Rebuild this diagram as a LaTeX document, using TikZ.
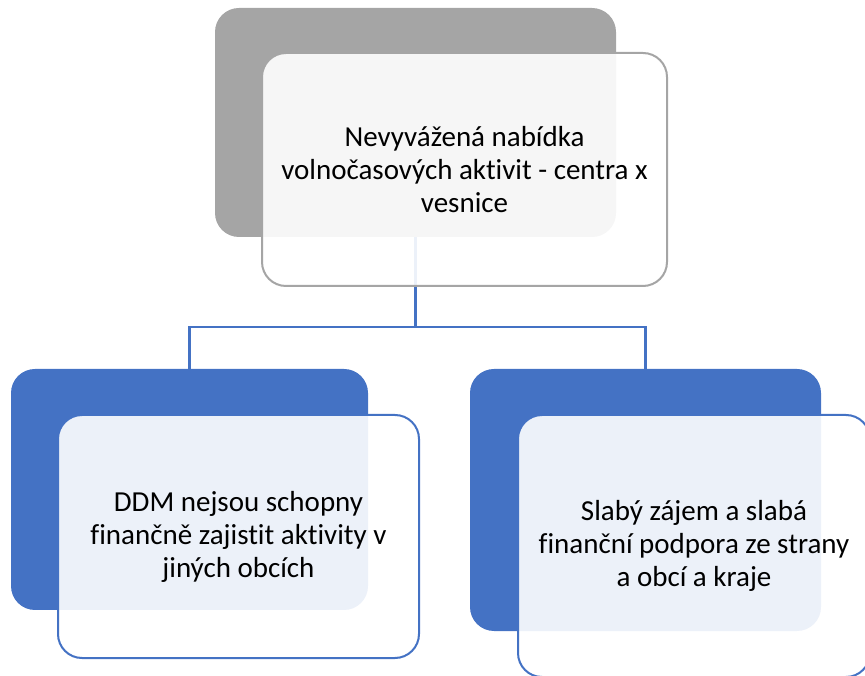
\documentclass[tikz,border=0pt]{standalone}
\usepackage{fontspec}
\setmainfont{Carlito}[Ligatures=NoCommon]
\definecolor{accblue}{HTML}{4472C4}
\definecolor{accgray}{HTML}{A5A5A5}
\tikzset{
  x=1pt,y=1pt,
  backbox/.style={rectangle, rounded corners=24pt, inner sep=0pt, draw=none},
  frontbox/.style={rectangle, rounded corners=24pt, inner sep=0pt, line width=2pt,
    fill=white, fill opacity=0.9, text opacity=1, align=center,
    font=\fontsize{29}{33}\selectfont},
  conn/.style={draw=accblue, line width=2.2pt}
}
\begin{document}
\begin{tikzpicture}
\useasboundingbox (0,0) rectangle (865,675);
% back boxes
\node[backbox, fill=accgray, minimum width=401pt, minimum height=229pt] (topback) at (415.5,552.5) {};
\node[backbox, fill=accblue, minimum width=357pt, minimum height=241pt] (leftback) at (189.5,185.5) {};
\node[backbox, fill=accblue, minimum width=351pt, minimum height=262pt] (rightback) at (645.5,175) {};
% connectors
\coordinate (junc) at (415.5,348);
\draw[conn] (topback.south) -- (junc);
\draw[conn] (junc) -| (leftback.north);
\draw[conn] (junc) -| (rightback.north);
% front boxes
\node[frontbox, draw=accgray, minimum width=405pt, minimum height=233pt] (topfront) at (464.5,505.5)
  {Nevyvážená nabídka\\volnočasových aktivit - centra x\\vesnice};
\node[frontbox, draw=accblue, minimum width=361pt, minimum height=243pt] (leftfront) at (238.5,138.5)
  {DDM nejsou schopny\\finančně zajistit aktivity v\\jiných obcích};
\node[frontbox, draw=accblue, minimum width=352pt, minimum height=262pt] (rightfront) at (694,129)
  {Slabý zájem a slabá\\finanční podpora ze strany\\a obcí a kraje};
\end{tikzpicture}
\end{document}
